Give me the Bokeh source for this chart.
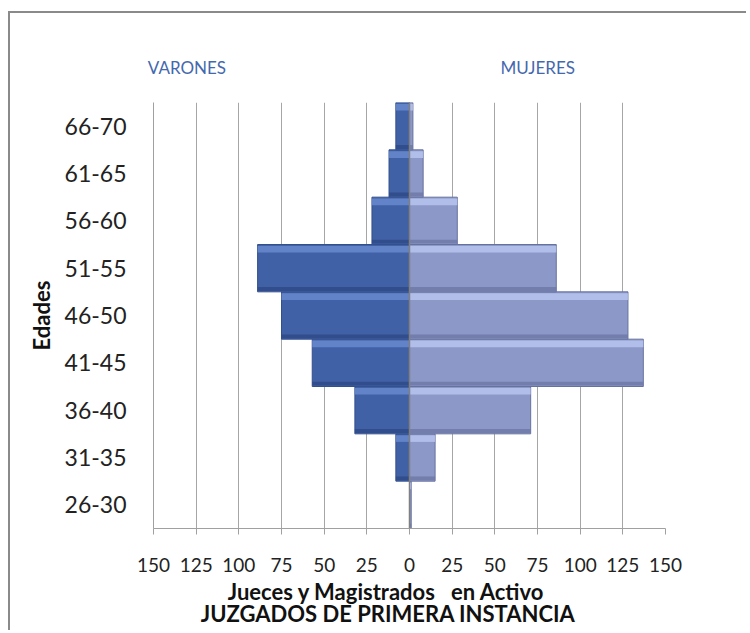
from bokeh.plotting import figure
from bokeh.models import (Range1d, FixedTicker, Span, LinearAxis, ColumnDataSource)
from bokeh.transform import dodge
from bokeh.layouts import column
from bokeh.embed import file_html
from bokeh.resources import INLINE

# ---- data ----
edades = ["26-30", "31-35", "36-40", "41-45", "46-50", "51-55", "56-60", "61-65", "66-70"]
varones = [0, 8, 32, 57, 75, 89, 22, 12, 8]
mujeres = [1, 15, 71, 137, 128, 86, 28, 8, 2]
x_ticks = [-150, -125, -100, -75, -50, -25, 0, 25, 50, 75, 100, 125, 150]
x_tick_labels = ["150", "125", "100", "75", "50", "25", "0", "25", "50", "75", "100", "125", "150"]
header_labels = ["VARONES", "MUJERES"]
title_line1 = "Jueces y Magistrados\u00a0\u00a0 en Activo"
title_line2 = "JUZGADOS DE PRIMERA INSTANCIA"

idx = list(range(len(edades)))
src = ColumnDataSource(dict(
    y=idx,
    mleft=[-v for v in varones],
    zero=[0] * len(idx),
    fright=mujeres,
))

FONT = "Lato"

p = figure(width=736, height=617, output_backend="svg", toolbar_location=None,
           x_range=Range1d(-150, 150), y_range=Range1d(-0.5, len(edades) - 0.5),
           min_border_left=143, min_border_right=81, min_border_top=89, min_border_bottom=102,
           background_fill_color="white", border_fill_color="white")
p.outline_line_color = None

# grid
p.xgrid.ticker = FixedTicker(ticks=x_ticks)
p.xgrid.grid_line_color = "#A6A6A6"
p.xgrid.grid_line_width = 1
p.ygrid.grid_line_color = None

# bars - varones
p.hbar(y="y", left="mleft", right="zero", height=1.0, source=src,
       fill_color="#4161A6", line_color="#34508C", line_width=1)
p.hbar(y=dodge("y", 0.40, range=p.y_range), left="mleft", right="zero", height=0.14, source=src,
       fill_color="#6C8CD2", line_color=None, fill_alpha=0.8)
p.hbar(y=dodge("y", -0.44, range=p.y_range), left="mleft", right="zero", height=0.08, source=src,
       fill_color="#2F4A86", line_color=None, fill_alpha=0.85)

# bars - mujeres
p.hbar(y="y", left="zero", right="fright", height=1.0, source=src,
       fill_color="#8C98C8", line_color="#66729E", line_width=1)
p.hbar(y=dodge("y", 0.40, range=p.y_range), left="zero", right="fright", height=0.14, source=src,
       fill_color="#BCC8F2", line_color=None, fill_alpha=0.8)
p.hbar(y=dodge("y", -0.44, range=p.y_range), left="zero", right="fright", height=0.08, source=src,
       fill_color="#6E79A8", line_color=None, fill_alpha=0.85)

# zero line
p.add_layout(Span(location=0, dimension="height", line_color="#808080", line_width=1.5))

# x axis
xa = p.xaxis[0]
xa.ticker = FixedTicker(ticks=x_ticks)
xa.major_label_overrides = {t: l for t, l in zip(x_ticks, x_tick_labels)}
xa.axis_line_color = "#A0A0A0"
xa.major_tick_line_color = "#A0A0A0"
xa.major_tick_in = 0
xa.major_tick_out = 6
xa.minor_tick_line_color = None
xa.major_label_standoff = 23
xa.major_label_text_font = FONT
xa.major_label_text_font_size = "19px"
xa.major_label_text_color = "#222222"

# y axis
ya = p.yaxis[0]
ya.ticker = FixedTicker(ticks=idx)
ya.major_label_overrides = {i: e for i, e in zip(idx, edades)}
ya.axis_line_color = "#A0A0A0"
ya.major_tick_line_color = None
ya.minor_tick_line_color = None
ya.major_label_standoff = 21
ya.major_label_text_font = FONT
ya.major_label_text_font_size = "23px"
ya.major_label_text_color = "#222222"
ya.axis_label = "Edades"
ya.axis_label_text_font = FONT
ya.axis_label_text_font_style = "bold"
ya.axis_label_text_font_size = "22px"
ya.axis_label_text_color = "#111111"
ya.axis_label_standoff = 7


def text_axis(ticks, labels, size, color, style, standoff):
    ax = LinearAxis(ticker=FixedTicker(ticks=ticks),
                    major_label_overrides={t: l for t, l in zip(ticks, labels)})
    ax.axis_line_color = None
    ax.major_tick_line_color = None
    ax.minor_tick_line_color = None
    ax.major_tick_out = 0
    ax.major_tick_in = 0
    ax.major_label_standoff = standoff
    ax.major_label_text_font = FONT
    ax.major_label_text_font_size = size
    ax.major_label_text_font_style = style
    ax.major_label_text_color = color
    return ax


# header labels (VARONES / MUJERES)
p.add_layout(text_axis([-130.4, 75.1], header_labels, "17px", "#4468AE", "normal", 25), "above")
# bottom titles
p.add_layout(text_axis([-13.5], [title_line1], "22px", "#111111", "bold", 3), "below")
p.add_layout(text_axis([-12.5], [title_line2], "22px", "#111111", "bold", -8), "below")

lay = column(p, styles={"border-left": "2px solid #8A8A8A", "border-top": "2px solid #8A8A8A",
                        "margin-left": "8px", "margin-top": "11px",
                        "box-sizing": "content-box", "overflow": "visible"})

html = file_html(lay, INLINE)
html = html.replace("<head>", "<head><style>html, body { overflow: hidden; }</style>", 1)
open("out.html", "w").write(html)
